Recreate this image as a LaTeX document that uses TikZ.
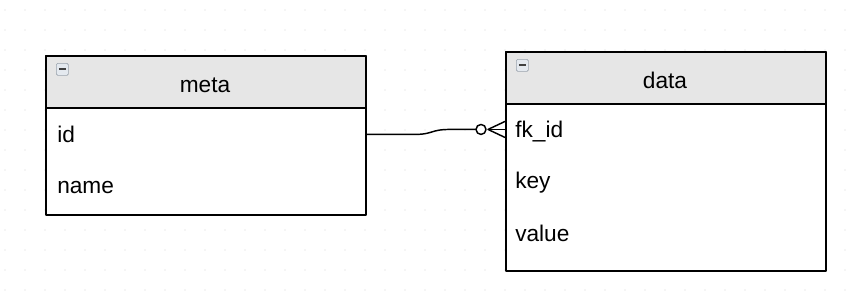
\documentclass[tikz,border=0pt]{standalone}
\usepackage{fontspec}
\setmainfont{Liberation Sans}
\usetikzlibrary{positioning,calc}

\definecolor{headgray}{HTML}{E6E6E6}
\definecolor{dotgray}{HTML}{D4D4D4}
\definecolor{iconblue}{HTML}{E4E9EF}
\definecolor{iconedge}{HTML}{9AA3AD}

\begin{document}
\begin{tikzpicture}[x=0.75pt, y=0.75pt, line join=round,
    every node/.style={font=\fontsize{17}{20}\selectfont},
    table/.style={draw, line width=1.4pt, fill=white, anchor=north west, inner sep=0pt, minimum width=240pt},
    head/.style={draw, line width=1.4pt, fill=headgray, anchor=north west, inner sep=0pt, minimum width=240pt, minimum height=39pt},
    field/.style={anchor=base west, inner sep=0pt, text height=12.4pt, text depth=0pt},
    title/.style={anchor=base, inner sep=0pt},
    toggle/.style={draw=iconedge, fill=iconblue, rounded corners=1pt, line width=0.5pt, minimum size=9pt, inner sep=0pt, anchor=north west},
    conn/.style={line width=1.1pt}]
\useasboundingbox (0,0) rectangle (862,-290);
% background dot grid
\foreach \i in {0,...,42}
  \foreach \j in {0,...,14}
    \fill[dotgray] (5+20*\i,-10-20*\j) circle (0.6);

% table meta
\node[table, minimum height=119.25pt] (meta) at (45,-55) {};
\node[head] (metahead) at (45,-55) {};
\node[toggle] (metatog) at (56,-63) {};
\draw[line width=1.6pt, black!75] ($(metatog.center)+(-3.5,0)$) -- ($(metatog.center)+(3.5,0)$);
\node[title] (metatitle) at (205,-92.7) {meta};
\node[field] (id) at (57,-142.7) {id};
\node[field] (name) at (57,-193.3) {name};

% table data
\node[table, minimum height=164.25pt] (data) at (505,-51) {};
\node[head] (datahead) at (505,-51) {};
\node[toggle] (datatog) at (516,-59) {};
\draw[line width=1.6pt, black!75] ($(datatog.center)+(-3.5,0)$) -- ($(datatog.center)+(3.5,0)$);
\node[title] (datatitle) at (665,-88.3) {data};
\node[field] (fkid) at (515,-137.7) {fk\_id};
\node[field] (key) at (515,-188.8) {key};
\node[field] (value) at (515,-241.7) {value};

% relation meta.id -> data.fk_id (one to zero-or-many)
\coordinate (fkend) at (data.west |- fkid);
\draw[conn] (meta.east |- id) -- ++(47,0)
  .. controls +(20,0) and +(-20,0) .. ($(fkend)+(-55,0)$) -- ($(fkend)+(-29,0)$);
\draw[conn] ($(fkend)+(-24,0)$) circle (5);
\draw[conn] ($(fkend)+(0,8)$) -- ($(fkend)+(-17,0)$) -- ($(fkend)+(0,-8)$);
\draw[conn] ($(fkend)+(-17,0)$) -- (fkend);
\end{tikzpicture}
\end{document}
